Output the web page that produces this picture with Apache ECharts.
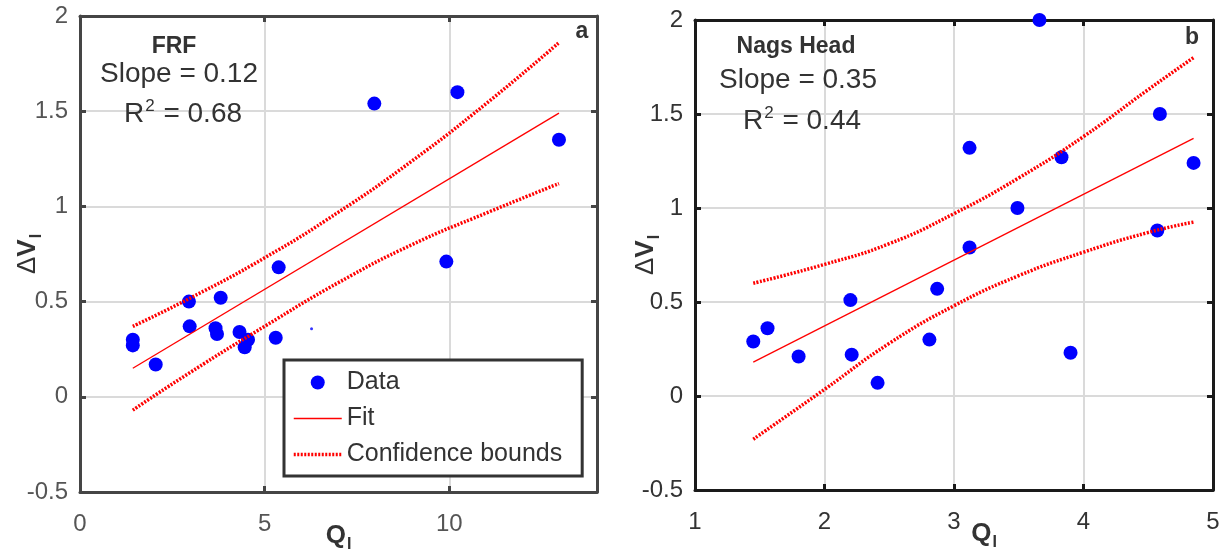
<!DOCTYPE html>
<html><head><meta charset="utf-8">
<script src="https://cdn.jsdelivr.net/npm/echarts@6/dist/echarts.min.js"></script>
<style>html,body{margin:0;padding:0;background:#fff}#c{width:1224px;height:559px}</style>
</head><body><div id="c"></div>
<script>
// ---- FRF (panel a) ----
const frfQ  = [1.43, 1.43, 2.05, 2.95, 2.97, 3.81, 3.67, 3.71, 4.32, 4.55, 4.46, 5.30, 5.38, 7.97, 10.22, 9.92, 12.97];
const frfDV = [0.30, 0.27, 0.17, 0.50, 0.37, 0.52, 0.36, 0.33, 0.34, 0.30, 0.26, 0.31, 0.68, 1.54, 1.60, 0.71, 1.35];
const frfStrayQ = [6.27];
const frfStrayDV = [0.357];
const frfFitQ = [1.43, 12.97];
const frfFitDV = [0.15, 1.49];
const frfBoundQ = [1.43, 3, 5, 7, 9, 11, 12.97];
const frfUpper = [0.37, 0.52, 0.73, 0.97, 1.24, 1.54, 1.86];
const frfLower = [-0.07, 0.13, 0.37, 0.60, 0.80, 0.965, 1.12];

// ---- Nags Head (panel b) ----
const nhQ  = [1.45, 1.56, 1.80, 2.20, 2.21, 2.41, 2.87, 2.81, 3.90, 3.66, 3.12, 3.83, 3.49, 3.12, 4.59, 4.85, 4.57];
const nhDV = [0.29, 0.36, 0.21, 0.51, 0.22, 0.07, 0.57, 0.30, 0.23, 2.00, 1.32, 1.27, 1.00, 0.79, 1.50, 1.24, 0.88];
const nhFitQ = [1.45, 4.85];
const nhFitDV = [0.18, 1.37];
const nhBoundQ = [1.45, 2, 2.5, 3, 3.5, 4, 4.5, 4.85];
const nhUpper = [0.60, 0.70, 0.81, 0.97, 1.16, 1.38, 1.63, 1.80];
const nhLower = [-0.23, 0.035, 0.28, 0.48, 0.64, 0.765, 0.87, 0.925];

// ---- axes ----
const frfXTicks = {min: 0, max: 14, interval: 5};
const nhXTicks = {min: 1, max: 5, interval: 1};
const yTicks = {min: -0.5, max: 2, interval: 0.5};

const legendNames = ['Data', 'Fit', 'Confidence bounds'];
const FONT = '"Liberation Sans", Arial, Helvetica, sans-serif';
const DOTTED = [2, 1.5];

const pair = (xs, ys) => xs.map((x, i) => [x, ys[i]]);

const chart = echarts.init(document.getElementById('c'), null, {renderer: 'canvas'});

function xAxes(gi, t, labelColor, boxColor, nameOpts) {
  const base = {
    type: 'value', gridIndex: gi, min: t.min, max: t.max, interval: t.interval,
    axisLine: {show: true, onZero: false, lineStyle: {color: boxColor, width: 3}},
    axisTick: {show: true, inside: true, length: 6, lineStyle: {color: boxColor, width: 3}},
  };
  return [
    Object.assign({}, base, {
      position: 'bottom',
      splitLine: {show: true, lineStyle: {color: '#dadada', width: 2}},
      axisLabel: {show: true, color: labelColor, fontFamily: FONT, fontSize: 24, margin: 20,
        formatter: v => ((v - t.min) % t.interval === 0 ? String(v) : '')},
      name: '{q|Q}{s|I}', nameLocation: 'middle', nameGap: 27, nameMoveOverlap: false,
      nameTextStyle: Object.assign({
        rich: {
          q: {fontFamily: FONT, fontSize: 26, fontWeight: 'bold', color: '#333'},
          s: {fontFamily: FONT, fontSize: 16, fontWeight: 'bold', color: '#333', padding: [18, 0, 0, 1]}
        }
      }, nameOpts || {})
    }),
    Object.assign({}, base, {position: 'top', splitLine: {show: false}, axisLabel: {show: false}})
  ];
}

function yAxes(gi, labelColor, boxColor, gap) {
  const base = {
    type: 'value', gridIndex: gi, min: yTicks.min, max: yTicks.max, interval: yTicks.interval,
    axisLine: {show: true, onZero: false, lineStyle: {color: boxColor, width: 3}},
    axisTick: {show: true, inside: true, length: 6, lineStyle: {color: boxColor, width: 3}},
  };
  return [
    Object.assign({}, base, {
      position: 'left',
      splitLine: {show: true, lineStyle: {color: '#dadada', width: 2}},
      axisLabel: {show: true, color: labelColor, fontFamily: FONT, fontSize: 24, margin: 12},
      name: '{d|Δ}{v|V}{s|I}', nameLocation: 'middle', nameGap: gap, nameRotate: 90, nameMoveOverlap: false,
      nameTextStyle: {
        rich: {
          d: {fontFamily: FONT, fontSize: 26, color: '#333'},
          v: {fontFamily: FONT, fontSize: 26, fontWeight: 'bold', color: '#333'},
          s: {fontFamily: FONT, fontSize: 16, fontWeight: 'bold', color: '#333', padding: [18, 0, 0, 1]}
        }
      }
    }),
    Object.assign({}, base, {position: 'right', splitLine: {show: false}, axisLabel: {show: false}})
  ];
}

function panelSeries(xi, yi, q, dv, fitQ, fitDV, bq, up, lo) {
  const bound = (data) => ({name: 'Confidence bounds', type: 'line', xAxisIndex: xi, yAxisIndex: yi, data,
    symbol: 'none', smooth: 0.5,
    lineStyle: {color: '#ff0000', width: 3.5, type: DOTTED}, itemStyle: {color: '#ff0000'}, z: 4});
  return [
    {name: 'Data', type: 'scatter', xAxisIndex: xi, yAxisIndex: yi, data: pair(q, dv),
      symbol: 'circle', symbolSize: 14, itemStyle: {color: '#0000ff', opacity: 1}, clip: false, z: 3},
    {name: 'Fit', type: 'line', xAxisIndex: xi, yAxisIndex: yi, data: pair(fitQ, fitDV),
      symbol: 'none', lineStyle: {color: '#ff0000', width: 1.3}, itemStyle: {color: '#ff0000'}, z: 4},
    bound(pair(bq, up)),
    bound(pair(bq, lo))
  ];
}

function txt(x, y, text, size, bold, rich) {
  const style = {x, y, text, fill: '#333', align: 'center', verticalAlign: 'middle',
    font: (bold ? 'bold ' : '') + size + 'px ' + FONT};
  if (rich) style.rich = rich;
  return {type: 'text', z: 10, style};
}
const supRich = {
  t: {fontFamily: FONT, fontSize: 28, color: '#333'},
  sup: {fontFamily: FONT, fontSize: 17, color: '#333', padding: [0, 1, 16, 1]}
};

const option = {
  animation: false,
  backgroundColor: '#fff',
  grid: [
    {left: 80, top: 16, width: 517, height: 476, containLabel: false, outerBoundsMode: 'none'},
    {left: 695, top: 20, width: 518, height: 470, containLabel: false, outerBoundsMode: 'none'}
  ],
  xAxis: [].concat(
    xAxes(0, frfXTicks, '#555', '#454545'),
    xAxes(1, nhXTicks, '#333', '#1a1a1a', {padding: [0, 0, 0, 60]})
  ),
  yAxis: [].concat(
    yAxes(0, '#555', '#454545', 35),
    yAxes(1, '#333', '#1a1a1a', 32)
  ),
  legend: {
    data: [
      {name: 'Data', icon: 'circle'},
      {name: 'Fit', itemStyle: {opacity: 0}, lineStyle: {width: 1.5}},
      {name: 'Confidence bounds', itemStyle: {opacity: 0}, lineStyle: {width: 3.5, type: DOTTED}}
    ],
    orient: 'vertical', left: 284, top: 360,
    padding: [10, 20, 9, 8],
    borderColor: '#333', borderWidth: 3, backgroundColor: '#fff',
    itemWidth: 48, itemHeight: 14, itemGap: 11,
    textStyle: {fontFamily: FONT, fontSize: 25, color: '#333', lineHeight: 25},
    selectedMode: false
  },
  series: [].concat(
    panelSeries(0, 0, frfQ, frfDV, frfFitQ, frfFitDV, frfBoundQ, frfUpper, frfLower),
    [{name: 'stray', type: 'scatter', xAxisIndex: 0, yAxisIndex: 0, data: pair(frfStrayQ, frfStrayDV),
      symbol: 'circle', symbolSize: 3, itemStyle: {color: '#0000ff'}}],
    panelSeries(2, 2, nhQ, nhDV, nhFitQ, nhFitDV, nhBoundQ, nhUpper, nhLower)
  ),
  graphic: [
    txt(174, 47, 'FRF', 23, true),
    txt(179, 74, 'Slope = 0.12', 28, false),
    txt(183, 114, '{t|R}{sup|2}{t| = 0.68}', 28, false, supRich),
    txt(582, 32, 'a', 23, true),
    txt(796, 47, 'Nags Head', 23, true),
    txt(798, 80, 'Slope = 0.35', 28, false),
    txt(802, 121, '{t|R}{sup|2}{t| = 0.44}', 28, false, supRich),
    txt(1192, 38, 'b', 23, true)
  ]
};
chart.setOption(option);
</script>
</body></html>
